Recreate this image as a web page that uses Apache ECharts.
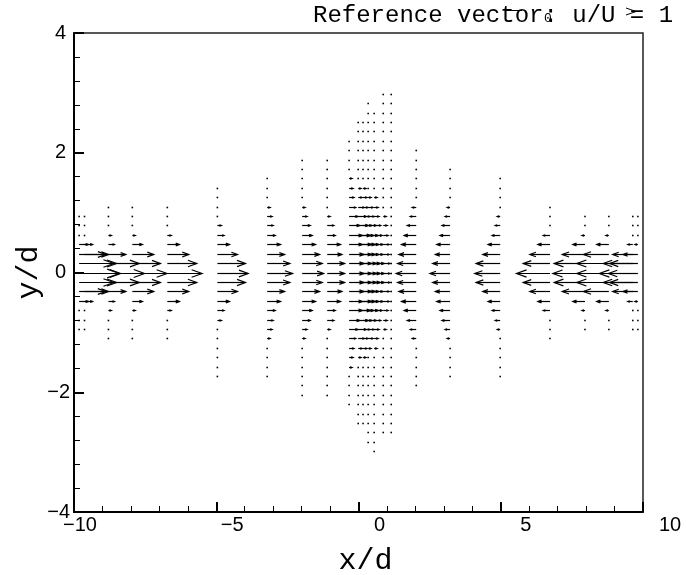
<!DOCTYPE html>
<html>
<head>
<meta charset="utf-8">
<script src="https://cdn.jsdelivr.net/npm/echarts@6/dist/echarts.min.js"></script>
<style>
html, body { margin: 0; padding: 0; background: #fff; }
#chart { width: 686px; height: 575px; }
</style>
</head>
<body>
<div id="chart"></div>
<script>
// Measurement stations (x/d) of the vector field
const stationX = [-9.82, -9.63, -8.79, -7.95, -6.72, -4.96, -3.21, -1.98, -1.10,
                  -0.33, -0.01, 0.16, 0.34, 0.55, 0.87, 1.15,
                  2.03, 3.22, 4.98, 6.73, 7.96, 8.80, 9.64, 9.82];
// Highest / lowest row index sampled at each station
const rowTop    = [6, 6, 7, 7, 7, 9, 10, 12, 12, 14, 16, 16, 18, 17, 19, 19, 13, 11, 10, 7, 6, 6, 6, 6];
const rowBottom = [-6, -6, -7, -7, -7, -11, -11, -13, -13, -14, -16, -16, -18, -19, -17, -17, -12, -11, -11, -7, -6, -6, -6, -6];
// Row spacing in y/d
const ROW_STEP = 0.157;
// Streamwise velocity u/U0 at each station, indexed by |row| (row 0 on the centreline)
const uProfiles = [
  [0.30, 0.26, 0.20, 0.07, 0.015, 0.008, 0.008],
  [0.27, 0.24, 0.18, 0.06, 0.008, 0.008, 0.008],
  [0.27, 0.23, 0.13, 0.045, 0.022, 0.015, 0.008, 0.008],
  [0.26, 0.21, 0.16, 0.075, 0.022, 0.008, 0.008, 0.008],
  [0.26, 0.22, 0.16, 0.09, 0.03, 0.015, 0.008, 0.008],
  [0.23, 0.21, 0.15, 0.09, 0.05, 0.03, 0.015, 0.008, 0.008, 0.008, 0.008, 0.008],
  [0.19, 0.17, 0.13, 0.10, 0.06, 0.045, 0.037, 0.022, 0.008, 0.008, 0.008, 0.008],
  [0.16, 0.15, 0.13, 0.10, 0.075, 0.06, 0.037, 0.022, 0.015, 0.008, 0.008, 0.008, 0.008, 0.008],
  [0.13, 0.13, 0.11, 0.10, 0.06, 0.05, 0.022, 0.015, 0.008, 0.008, 0.008, 0.008, 0.008, 0.008],
  [0.11, 0.11, 0.11, 0.10, 0.10, 0.08, 0.067, 0.05, 0.037, 0.03, 0.022, 0.015, 0.008, 0.008, 0.008],
  [0.10, 0.10, 0.10, 0.10, 0.09, 0.075, 0.06, 0.045, 0.03, 0.022, 0.015, 0.015, 0.008, 0.008, 0.008, 0.008, 0.008],
  [0.10, 0.10, 0.09, 0.09, 0.08, 0.067, 0.05, 0.037, 0.03, 0.022, 0.015, 0.008, 0.008, 0.008, 0.008, 0.008, 0.008],
  [0.09, 0.09, 0.08, 0.08, 0.075, 0.06, 0.045, 0.037, 0.022, 0.015, 0.015, 0.008, 0.008, 0.008, 0.008, 0.008, 0.008, 0.008, 0.008],
  [0.075, 0.075, 0.067, 0.067, 0.06, 0.05, 0.037, 0.03, 0.022, 0.015, 0.008, 0.008, 0.008, 0.008, 0.008, 0.008, 0.008, 0.008, 0.008, 0.008],
  [0.05, 0.05, 0.045, 0.045, 0.037, 0.03, 0.022, 0.015, 0.008, 0.008, 0.008, 0.008, 0.008, 0.008, 0.008, 0.008, 0.008, 0.008, 0.008, 0.008],
  [0.015, 0.015, 0.015, 0.008, 0.008, 0.008, 0.008, 0.008, 0.008, 0.008, 0.008, 0.008, 0.008, 0.008, 0.008, 0.008, 0.008, 0.008, 0.008, 0.008],
  [-0.15, -0.14, -0.13, -0.11, -0.09, -0.067, -0.045, -0.03, -0.015, -0.008, -0.008, -0.008, -0.008, -0.008],
  [-0.15, -0.13, -0.11, -0.10, -0.075, -0.06, -0.037, -0.022, -0.015, -0.008, -0.008, -0.008],
  [-0.19, -0.18, -0.13, -0.09, -0.06, -0.037, -0.022, -0.015, -0.008, -0.008, -0.008, -0.008],
  [-0.25, -0.20, -0.15, -0.09, -0.05, -0.015, -0.008, -0.008],
  [-0.24, -0.23, -0.17, -0.09, -0.022, -0.008, -0.008],
  [-0.24, -0.24, -0.19, -0.09, -0.022, -0.008, -0.008],
  [-0.25, -0.22, -0.15, -0.037, -0.008, -0.008, -0.008],
  [-0.22, -0.21, -0.11, -0.022, -0.008, -0.008, -0.008]
];
// Axis tick values
const xTicks = [-10, -5, 0, 5, 10];
const yTicks = [-4, -2, 0, 2, 4];
// Length of the reference vector u/U0 = 1, in x/d units
const VEC_X_PER_U = 4.7;

// Flatten the stations into [x, y, u] records
const vectors = [];
stationX.forEach((x, i) => {
  for (let k = rowBottom[i]; k <= rowTop[i]; k++) {
    vectors.push([x, +(k * ROW_STEP).toFixed(4), uProfiles[i][Math.abs(k)]]);
  }
});

const INK = '#000';
function renderArrow(params, api) {
  const x = api.value(0), y = api.value(1), u = api.value(2);
  const p0 = api.coord([x, y]);
  const p1 = api.coord([x + u * VEC_X_PER_U, y]);
  const py = Math.round(p0[1]) + 0.5;
  const dx = p1[0] - p0[0];
  const len = Math.abs(dx);
  if (len < 2.5) {
    return { type: 'rect', shape: { x: p0[0] - 0.8, y: py - 0.8, width: 1.6, height: 1.6 },
             style: { fill: INK } };
  }
  const dir = Math.sign(dx);
  const hl = Math.max(2, len * 0.3);
  const hw = hl * Math.tan(20 * Math.PI / 180);
  return {
    type: 'group',
    children: [
      { type: 'line', shape: { x1: p0[0], y1: py, x2: p1[0], y2: py },
        style: { stroke: INK, lineWidth: 1.2 } },
      { type: 'polyline',
        shape: { points: [[p1[0] - dir * hl, py - hw], [p1[0], py], [p1[0] - dir * hl, py + hw]] },
        style: { stroke: INK, lineWidth: 1.2, fill: null } }
    ]
  };
}

const fmt = v => (v < 0 ? '\u2212' + Math.abs(v) : String(v));
// Horizontal nudge of each x tick label
const xLabelKey = { '-10': 'a', '-5': 'b', '0': 'c', '5': 'd', '10': 'e' };
const tickFont = { fontFamily: 'Liberation Sans', fontSize: 20, color: '#000' };

const chart = echarts.init(document.getElementById('chart'), null, { renderer: 'canvas' });
chart.setOption({
  animation: false,
  backgroundColor: '#fff',
  grid: { left: 74, right: 43, top: 33, bottom: 63, show: true, outerBoundsMode: 'none',
          containLabel: false, borderColor: '#222', borderWidth: 1.5, backgroundColor: 'transparent' },
  xAxis: {
    type: 'value', min: xTicks[0], max: xTicks[xTicks.length - 1], interval: 5,
    name: 'x/d', nameLocation: 'middle', nameGap: 34,
    nameTextStyle: { fontFamily: 'Liberation Mono', fontSize: 30, color: '#000', padding: [0, 0, 0, 14] },
    axisLine: { onZero: false, lineStyle: { color: '#000', width: 2 } },
    axisTick: { inside: false, length: -10, lineStyle: { color: '#000', width: 2 } },
    minorTick: { show: true, splitNumber: 5, length: -6, lineStyle: { color: '#000', width: 1 } },
    splitLine: { show: false },
    axisLabel: Object.assign({}, tickFont, {
      margin: 3,
      formatter: v => '{' + xLabelKey[String(v)] + '|' + fmt(v) + '}',
      rich: {
        a: Object.assign({}, tickFont, { padding: [0, 0, 0, 12] }),
        b: Object.assign({}, tickFont, { padding: [0, 0, 0, 32] }),
        c: Object.assign({}, tickFont, { padding: [0, 0, 0, 42] }),
        d: Object.assign({}, tickFont, { padding: [0, 0, 0, 50] }),
        e: Object.assign({}, tickFont, { padding: [0, 0, 0, 54] })
      }
    })
  },
  yAxis: {
    type: 'value', min: yTicks[0], max: yTicks[yTicks.length - 1], interval: 2,
    name: 'y/d', nameLocation: 'middle', nameGap: 30, nameMoveOverlap: false,
    nameTextStyle: { fontFamily: 'Liberation Mono', fontSize: 30, color: '#000' },
    axisLine: { onZero: false, lineStyle: { color: '#000', width: 2 } },
    axisTick: { inside: false, length: -10, lineStyle: { color: '#000', width: 2 } },
    minorTick: { show: true, splitNumber: 5, length: -6, lineStyle: { color: '#000', width: 1 } },
    splitLine: { show: false },
    axisLabel: Object.assign({}, tickFont, {
      margin: 4,
      formatter: v => (v < 0 ? fmt(v) : '{p|' + fmt(v) + '}'),
      rich: { p: Object.assign({}, tickFont, { padding: [0, 4, 0, 0] }) }
    })
  },
  series: [{
    type: 'custom',
    renderItem: renderArrow,
    data: vectors,
    clip: false,
    encode: { x: 0, y: 1 }
  }],
  graphic: [
    { type: 'text', left: 313, top: 4,
      style: { text: 'Reference vector: u/U = 1', fontFamily: 'Liberation Mono', fontSize: 24, fill: '#000' } },
    { type: 'text', left: 544, top: 12,
      style: { text: '0', fontFamily: 'Liberation Mono', fontSize: 13, fill: '#000' } },
    { type: 'line', shape: { x1: 505, y1: 10.5, x2: 522, y2: 10.5 }, style: { stroke: '#000', lineWidth: 1 } },
    { type: 'polyline', shape: { points: [[626, 8], [636, 11.5], [626, 15]] }, style: { stroke: '#000', lineWidth: 1, fill: null } }
  ]
});
</script>
</body>
</html>
